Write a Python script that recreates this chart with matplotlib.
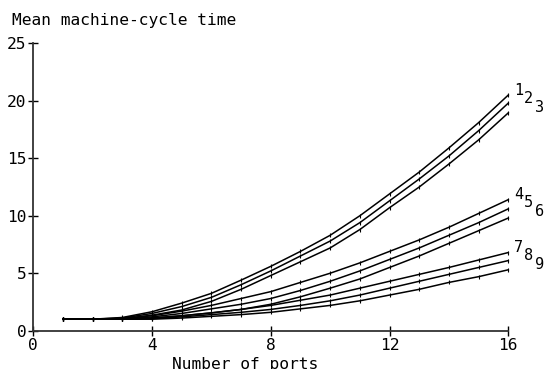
import matplotlib

matplotlib.use("Agg")
import matplotlib.pyplot as plt
import numpy as np

plt.rcParams["font.family"] = ["DejaVu Sans Mono"]

ports = list(range(1, 17))

# mean machine-cycle time
curve_1 = [1.0, 1.0, 1.15, 1.65, 2.4, 3.25, 4.4, 5.6, 6.9, 8.3, 10.0, 11.9, 13.8, 15.9, 18.1, 20.5]
curve_2 = [1.0, 1.0, 1.1, 1.5, 2.1, 2.9, 4.0, 5.2, 6.5, 7.8, 9.4, 11.3, 13.2, 15.2, 17.4, 19.8]
curve_3 = [1.0, 1.0, 1.05, 1.35, 1.8, 2.55, 3.6, 4.8, 6.0, 7.2, 8.8, 10.7, 12.5, 14.5, 16.6, 18.95]
curve_4 = [1.0, 1.0, 1.05, 1.3, 1.7, 2.2, 2.8, 3.4, 4.2, 5.0, 5.9, 6.9, 7.9, 9.0, 10.2, 11.4]
curve_5 = [1.0, 1.0, 1.0, 1.2, 1.5, 1.9, 2.3, 2.8, 3.5, 4.3, 5.2, 6.2, 7.2, 8.3, 9.4, 10.6]
curve_6 = [1.0, 1.0, 1.0, 1.1, 1.3, 1.55, 1.85, 2.3, 2.95, 3.7, 4.5, 5.5, 6.5, 7.6, 8.7, 9.8]
curve_7 = [1.0, 1.0, 1.0, 1.1, 1.3, 1.55, 1.85, 2.2, 2.65, 3.1, 3.7, 4.3, 4.9, 5.5, 6.15, 6.8]
curve_8 = [1.0, 1.0, 1.0, 1.05, 1.2, 1.4, 1.6, 1.85, 2.2, 2.6, 3.1, 3.7, 4.3, 4.9, 5.5, 6.1]
curve_9 = [1.0, 1.0, 1.0, 1.0, 1.1, 1.25, 1.4, 1.6, 1.9, 2.2, 2.6, 3.1, 3.6, 4.2, 4.7, 5.3]

curves = [curve_1, curve_2, curve_3, curve_4, curve_5, curve_6, curve_7, curve_8, curve_9]
curve_names = ["1", "2", "3", "4", "5", "6", "7", "8", "9"]

x_ticks = [0, 4, 8, 12, 16]
y_ticks = [0, 5, 10, 15, 20, 25]

W, H = 546, 369
fig = plt.figure(figsize=(W / 100, H / 100), dpi=100)
ax = fig.add_axes([33.3 / W, 1 - 330.7 / H, 475.0 / W, 287.4 / H])

for ys in curves:
    ax.plot(ports, ys, color="black", lw=1.1, marker="|", ms=3, mew=0.8, clip_on=False)

# curve numbers: a staircase of three next to the top curve of each group
offsets = [(10, 5), (20.5, -3), (31.5, -12)]
for i, name in enumerate(curve_names):
    top = curves[i - i % 3]
    ax.annotate(name, xy=(ports[-1], top[-1]), xytext=offsets[i % 3],
                textcoords="offset pixels", fontsize=11, ha="center", va="center",
                annotation_clip=False)

ax.set_xlim(0, 16)
ax.set_ylim(0, 25)
ax.set_xticks(x_ticks)
ax.set_yticks(y_ticks)
ax.spines["top"].set_visible(False)
ax.spines["right"].set_visible(False)
for s in ("left", "bottom"):
    ax.spines[s].set_linewidth(1.3)
    ax.spines[s].set_color("#333333")
ax.tick_params(direction="inout", length=7, width=1.0, labelsize=11.7, pad=1.5, colors="black")

fig.text(12 / W, 1 - 21 / H, "Mean machine-cycle time", fontsize=11.7, ha="left", va="center")
fig.text(245 / W, 1 - 365 / H, "Number of ports", fontsize=11.7, ha="center", va="center")

fig.savefig("out.png", dpi=100)
